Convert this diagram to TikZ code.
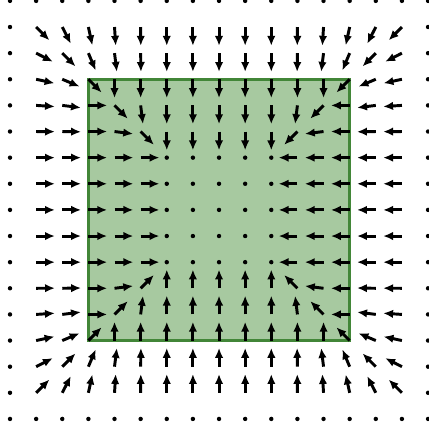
\documentclass[tikz,border=0pt]{standalone}
\usepackage{tikz}
\usetikzlibrary{arrows.meta}
\definecolor{setfill}{RGB}{167,201,160}
\definecolor{setline}{RGB}{66,134,56}

\begin{document}
\begin{tikzpicture}[x=0.5cm, y=0.5cm,
        region/.style={fill=setfill, draw=setline, line width=1.6pt},
        vec/.style={line width=1.6pt, -{Latex[length=5.4pt, width=4.6pt]}},
        spot/.style={fill=black}]
        \useasboundingbox (-0.383,-0.5) rectangle (16.035,16.034);

        % green set
        \draw [region] (3,3) rectangle (13,13);

        % field on the grid
        \foreach \x in {0,...,16} {
            \foreach \y in {0,...,16} {
                \pgfmathsetmacro{\ddx}{min(max(\x,6),10)-\x}
                \pgfmathsetmacro{\ddy}{min(max(\y,6),10)-\y}
                % on the edge of the set: straight inwards
                \pgfmathsetmacro{\ddy}{((\x==3 || \x==13) && \y>3 && \y<13) ? 0 : \ddy}
                \pgfmathsetmacro{\ddx}{((\y==3 || \y==13) && \x>3 && \x<13) ? 0 : \ddx}
                \pgfmathsetmacro{\ux}{\ddx*\ddx*\ddx}
                \pgfmathsetmacro{\uy}{\ddy*\ddy*\ddy}
                \pgfmathtruncatemacro{\isdot}{(\ux==0 && \uy==0) || \x==0 || \x==16 || \y==0 || \y==16}
                \ifnum\isdot=1
                    \fill [spot] (\x,\y) circle (1.2pt);
                \else
                    \pgfmathsetmacro{\ang}{atan2(\uy,\ux)}
                    \draw [vec] (\x,\y) -- ++(\ang:0.72);
                \fi
            }
        }
    \end{tikzpicture}
\end{document}
